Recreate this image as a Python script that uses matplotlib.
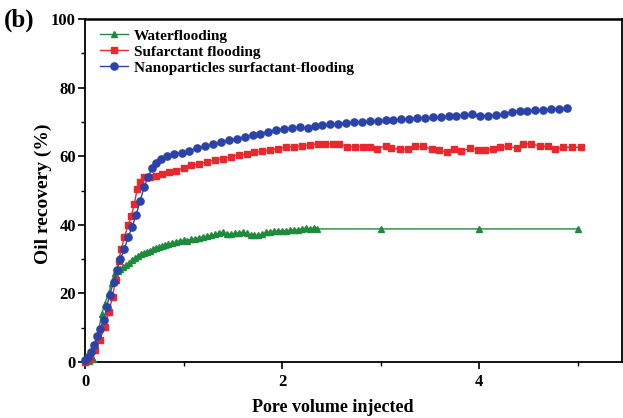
import matplotlib
matplotlib.use("Agg")
import matplotlib.pyplot as plt
from matplotlib.ticker import MultipleLocator

# ---- data ----
water_x = [0.00, 0.04, 0.08, 0.10, 0.13, 0.17, 0.20, 0.24, 0.27, 0.30, 0.33, 0.36,
           0.39, 0.42, 0.45, 0.48, 0.51, 0.54, 0.57, 0.60, 0.63, 0.66, 0.69, 0.72,
           0.75, 0.78, 0.81, 0.84, 0.88, 0.92, 0.96, 1.00, 1.04, 1.08, 1.12, 1.16,
           1.20, 1.24, 1.28, 1.32, 1.36, 1.40, 1.44, 1.48, 1.52, 1.56, 1.60, 1.64,
           1.68, 1.72, 1.76, 1.80, 1.84, 1.88, 1.92, 1.96, 2.00, 2.04, 2.08, 2.12,
           2.16, 2.20, 2.24, 2.28, 2.32, 2.35, 3.00, 4.00, 5.00]
water_y = [0.0, 0.3, 1.0, 4.0, 8.0, 14.0, 17.0, 20.0, 23.0, 26.0, 26.5, 27.0,
           27.6, 28.3, 29.0, 29.7, 30.3, 30.8, 31.4, 31.8, 32.2, 32.5, 32.9, 33.2,
           33.5, 33.7, 34.0, 34.3, 34.6, 35.0, 35.3, 35.5, 35.4, 35.8, 36.0, 36.2,
           36.5, 36.7, 37.0, 37.2, 37.6, 37.9, 37.2, 37.3, 37.5, 37.7, 37.8, 37.5,
           37.0, 36.9, 37.0, 37.3, 37.8, 38.0, 38.1, 38.2, 38.3, 38.2, 38.4, 38.6,
           38.5, 38.8, 39.0, 38.9, 39.0, 38.8, 38.8, 38.8, 38.8]

surf_x = [0.00, 0.05, 0.10, 0.15, 0.20, 0.24, 0.28, 0.31, 0.34, 0.37, 0.40, 0.44,
          0.47, 0.50, 0.53, 0.56, 0.60, 0.66, 0.72, 0.78, 0.85, 0.92, 1.00, 1.08,
          1.16, 1.24, 1.32, 1.40, 1.48, 1.56, 1.64, 1.72, 1.80, 1.88, 1.96, 2.04,
          2.12, 2.20, 2.28, 2.36, 2.44, 2.52, 2.58, 2.66, 2.74, 2.82, 2.89, 2.96,
          3.05, 3.11, 3.20, 3.28, 3.35, 3.43, 3.52, 3.59, 3.67, 3.74, 3.82, 3.91,
          3.99, 4.06, 4.14, 4.21, 4.29, 4.38, 4.45, 4.53, 4.62, 4.70, 4.77, 4.85,
          4.94, 5.03]
surf_y = [0.0, 1.0, 3.5, 6.4, 10.3, 14.6, 19.0, 24.0, 29.5, 33.0, 36.5, 40.0,
          42.5, 46.0, 50.5, 52.5, 53.8, 54.0, 54.3, 54.8, 55.3, 55.8, 56.5, 57.3,
          57.8, 58.4, 59.0, 59.3, 59.9, 60.3, 60.7, 61.1, 61.4, 61.8, 62.2, 62.6,
          62.8, 63.0, 63.3, 63.5, 63.6, 63.6, 63.6, 62.8, 62.8, 62.8, 62.8, 62.1,
          63.1, 62.3, 62.1, 62.0, 62.9, 62.9, 62.0, 61.9, 61.1, 62.1, 61.4, 62.4,
          61.9, 61.9, 62.1, 62.6, 62.9, 62.4, 63.6, 63.6, 62.9, 62.9, 62.0, 62.6,
          62.6, 62.6]

nano_x = [0.00, 0.03, 0.06, 0.09, 0.12, 0.15, 0.19, 0.22, 0.25, 0.29, 0.32, 0.36,
          0.40, 0.44, 0.48, 0.52, 0.56, 0.60, 0.64, 0.68, 0.72, 0.77, 0.83, 0.90,
          0.98, 1.06, 1.14, 1.22, 1.30, 1.38, 1.46, 1.54, 1.62, 1.70, 1.78, 1.86,
          1.94, 2.02, 2.10, 2.18, 2.26, 2.33, 2.41, 2.49, 2.57, 2.65, 2.73, 2.81,
          2.89, 2.97, 3.05, 3.13, 3.21, 3.29, 3.37, 3.45, 3.53, 3.61, 3.69, 3.77,
          3.85, 3.93, 4.01, 4.09, 4.17, 4.25, 4.33, 4.41, 4.49, 4.57, 4.65, 4.73,
          4.81, 4.89]
nano_y = [0.5, 1.5, 3.0, 5.0, 7.5, 9.5, 12.2, 16.0, 19.5, 23.3, 26.7, 30.0,
          33.0, 36.5, 39.5, 43.0, 47.0, 51.0, 54.0, 56.5, 58.0, 59.2, 60.0, 60.6,
          61.0, 61.6, 62.3, 62.9, 63.5, 64.0, 64.6, 65.1, 65.7, 66.2, 66.6, 67.1,
          67.6, 68.0, 68.3, 68.4, 68.2, 68.9, 69.0, 69.3, 69.5, 69.7, 69.9, 70.0,
          70.2, 70.3, 70.5, 70.6, 70.7, 70.9, 71.0, 71.2, 71.3, 71.5, 71.6, 71.8,
          72.0, 72.2, 71.7, 71.8, 71.9, 72.2, 73.0, 73.1, 73.2, 73.4, 73.6, 73.7,
          73.8, 74.0]

labels = ["Waterflooding", "Sufarctant flooding", "Nanoparticles surfactant-flooding"]

# ---- figure ----
plt.rcParams['font.family'] = ['Liberation Serif', 'DejaVu Serif']
plt.rcParams['font.weight'] = 'bold'

fig = plt.figure(figsize=(6.23, 4.18), dpi=100)
ax = fig.add_axes([85/623, 1-362/418, (622-85)/623, (362-19)/418])

ax.plot(water_x, water_y, color='#1e8a3c', marker='^', markersize=4.5, lw=1.0,
        label=labels[0], clip_on=False, zorder=3)
ax.plot(surf_x, surf_y, color='#e8282c', marker='s', markersize=4.8, lw=1.0,
        label=labels[1], clip_on=False, zorder=4)
ax.plot(nano_x, nano_y, color='#2b43a6', marker='o', markersize=5.2, lw=1.0,
        label=labels[2], clip_on=False, zorder=5)

ax.set_xlim(0, 5.45)
ax.set_ylim(0, 100)
ax.xaxis.set_major_locator(MultipleLocator(2))
ax.xaxis.set_minor_locator(MultipleLocator(1))
ax.yaxis.set_major_locator(MultipleLocator(20))
ax.yaxis.set_minor_locator(MultipleLocator(10))
ax.tick_params(which='major', direction='out', length=5, width=1.2, labelsize=12)
ax.tick_params(axis='y', which='major', pad=1.5)
ax.tick_params(which='minor', direction='out', length=3, width=1.0)
ax.tick_params(top=False, right=False)
for lbl in ax.get_xticklabels() + ax.get_yticklabels():
    lbl.set_fontweight('bold')
for s in ax.spines.values():
    s.set_linewidth(1.3)
ax.spines['top'].set_linewidth(1.8)

ax.set_xlabel("Pore volume injected", fontsize=13, fontweight='bold')
ax.xaxis.set_label_coords(0.462, -0.108)
ax.set_ylabel("Oil recovery (%)", fontsize=14, fontweight='bold')
ax.yaxis.set_label_coords(-0.062, 0.49)

leg = ax.legend(loc='upper left', frameon=False, fontsize=11, handlelength=1.8,
                handletextpad=0.4, labelspacing=0.15, borderaxespad=0.25,
                bbox_to_anchor=(0.01, 1.0))
for t in leg.get_texts():
    t.set_fontweight('bold')

fig.text(4/623, 1-20/418, "(b)", fontsize=18, fontweight='bold', va='center', ha='left')

fig.savefig("out.png", dpi=100)
